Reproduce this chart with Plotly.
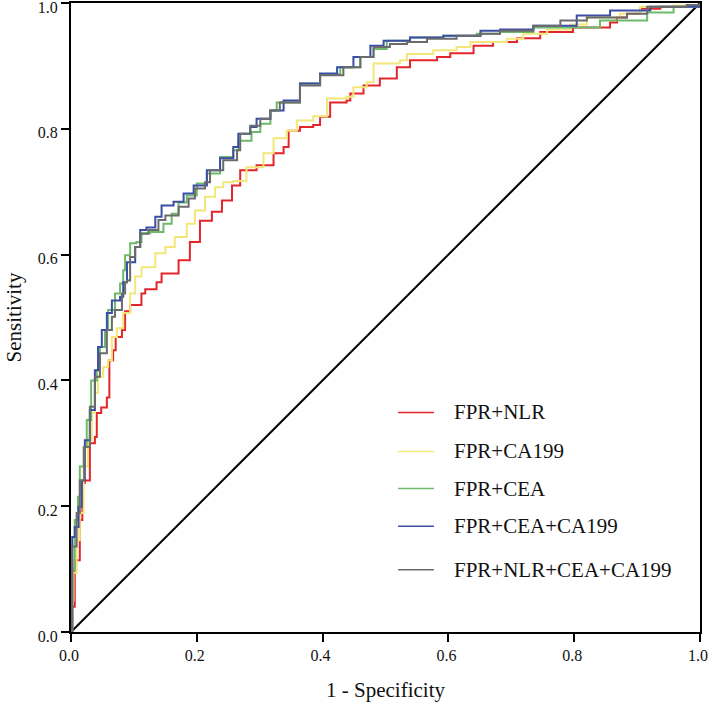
import plotly.graph_objects as go

# ---------------- data ----------------
series_names = ["FPR+NLR", "FPR+CA199", "FPR+CEA", "FPR+CEA+CA199", "FPR+NLR+CEA+CA199"]

nlr_x = [0, 0.002, 0.006, 0.014, 0.018, 0.022, 0.030, 0.038, 0.041, 0.048, 0.057, 0.061, 0.067, 0.071,
         0.081, 0.086, 0.094, 0.112, 0.118, 0.136, 0.144, 0.171, 0.189, 0.205, 0.224, 0.240, 0.256,
         0.269, 0.295, 0.317, 0.322, 0.338, 0.346, 0.364, 0.385, 0.396, 0.412, 0.438, 0.444, 0.465,
         0.491, 0.518, 0.539, 0.582, 0.603, 0.640, 0.671, 0.709, 0.746, 0.798, 0.841, 0.857, 0.868,
         0.884, 0.905, 0.937, 0.979, 1.0]
nlr_y = [0, 0.040, 0.114, 0.178, 0.237, 0.241, 0.300, 0.310, 0.348, 0.357, 0.373, 0.432, 0.448, 0.469,
         0.480, 0.510, 0.520, 0.538, 0.545, 0.556, 0.570, 0.591, 0.620, 0.654, 0.668, 0.686, 0.710,
         0.734, 0.742, 0.742, 0.761, 0.771, 0.797, 0.803, 0.806, 0.819, 0.842, 0.845, 0.856, 0.869,
         0.880, 0.898, 0.909, 0.914, 0.920, 0.932, 0.938, 0.944, 0.954, 0.961, 0.961, 0.969, 0.977,
         0.983, 0.991, 0.994, 0.996, 1.0]

ca199_x = [0, 0.002, 0.004, 0.009, 0.014, 0.020, 0.027, 0.033, 0.038, 0.043, 0.051, 0.059, 0.065, 0.073,
           0.083, 0.094, 0.102, 0.112, 0.134, 0.150, 0.165, 0.184, 0.197, 0.213, 0.229, 0.242, 0.258,
           0.279, 0.306, 0.322, 0.343, 0.359, 0.385, 0.407, 0.438, 0.449, 0.470, 0.481, 0.523, 0.534,
           0.576, 0.613, 0.635, 0.661, 0.693, 0.719, 0.757, 0.794, 0.820, 0.873, 0.905, 0.958, 1.0]
ca199_y = [0, 0.050, 0.094, 0.146, 0.189, 0.263, 0.305, 0.348, 0.380, 0.406, 0.421, 0.432, 0.469, 0.483,
           0.507, 0.538, 0.565, 0.580, 0.602, 0.612, 0.628, 0.649, 0.670, 0.692, 0.707, 0.715, 0.717,
           0.739, 0.761, 0.785, 0.797, 0.813, 0.820, 0.848, 0.851, 0.866, 0.874, 0.904, 0.909, 0.919,
           0.925, 0.930, 0.938, 0.938, 0.943, 0.951, 0.958, 0.966, 0.977, 0.983, 0.994, 0.996, 1.0]

cea_x = [0, 0.001, 0.006, 0.011, 0.014, 0.020, 0.025, 0.032, 0.041, 0.046, 0.054, 0.059, 0.070, 0.078,
         0.083, 0.086, 0.094, 0.104, 0.112, 0.126, 0.147, 0.160, 0.171, 0.184, 0.200, 0.216, 0.237,
         0.258, 0.266, 0.277, 0.287, 0.301, 0.317, 0.327, 0.364, 0.396, 0.428, 0.460, 0.481, 0.502,
         0.539, 0.592, 0.645, 0.682, 0.735, 0.788, 0.841, 0.916, 0.958, 1.0]
cea_y = [0, 0.098, 0.178, 0.215, 0.263, 0.294, 0.337, 0.400, 0.416, 0.453, 0.480, 0.512, 0.538, 0.554,
         0.575, 0.599, 0.618, 0.620, 0.634, 0.636, 0.649, 0.665, 0.683, 0.694, 0.713, 0.729, 0.755,
         0.766, 0.781, 0.781, 0.795, 0.808, 0.829, 0.842, 0.872, 0.887, 0.898, 0.914, 0.927, 0.940,
         0.945, 0.948, 0.951, 0.954, 0.961, 0.961, 0.972, 0.985, 0.994, 1.0]

cea_ca199_x = [0, 0.002, 0.006, 0.012, 0.017, 0.022, 0.030, 0.038, 0.043, 0.049, 0.057, 0.065, 0.078,
               0.083, 0.089, 0.102, 0.110, 0.120, 0.134, 0.144, 0.163, 0.179, 0.195, 0.216, 0.237, 0.258,
               0.266, 0.285, 0.295, 0.317, 0.338, 0.364, 0.396, 0.423, 0.449, 0.476, 0.497, 0.539, 0.592,
               0.651, 0.682, 0.735, 0.804, 0.857, 0.921, 1.0]
cea_ca199_y = [0, 0.151, 0.167, 0.199, 0.241, 0.305, 0.353, 0.416, 0.453, 0.480, 0.507, 0.527, 0.533,
               0.556, 0.588, 0.612, 0.639, 0.643, 0.660, 0.678, 0.684, 0.697, 0.710, 0.734, 0.753, 0.771,
               0.792, 0.803, 0.816, 0.829, 0.845, 0.872, 0.888, 0.898, 0.914, 0.932, 0.940, 0.945, 0.948,
               0.956, 0.958, 0.964, 0.980, 0.988, 0.994, 1.0]

all_x = [0, 0.002, 0.009, 0.014, 0.021, 0.030, 0.038, 0.046, 0.054, 0.057, 0.065, 0.070, 0.081, 0.086,
         0.089, 0.094, 0.102, 0.110, 0.123, 0.139, 0.150, 0.171, 0.187, 0.197, 0.213, 0.221, 0.242,
         0.264, 0.269, 0.285, 0.301, 0.317, 0.332, 0.364, 0.396, 0.433, 0.460, 0.481, 0.507, 0.534,
         0.566, 0.613, 0.651, 0.682, 0.735, 0.778, 0.820, 0.884, 0.916, 0.979, 1.0]
all_y = [0, 0.136, 0.189, 0.241, 0.294, 0.358, 0.406, 0.443, 0.443, 0.480, 0.501, 0.512, 0.538, 0.556,
         0.559, 0.596, 0.612, 0.633, 0.639, 0.655, 0.662, 0.676, 0.689, 0.705, 0.715, 0.734, 0.750,
         0.766, 0.792, 0.805, 0.816, 0.829, 0.842, 0.869, 0.885, 0.898, 0.914, 0.930, 0.935, 0.938,
         0.943, 0.948, 0.951, 0.956, 0.964, 0.972, 0.977, 0.983, 0.994, 0.997, 1.0]

ref_x = [0, 1]
ref_y = [0, 1]

tick_vals = [0.0, 0.2, 0.4, 0.6, 0.8, 1.0]
tick_text = ["0.0", "0.2", "0.4", "0.6", "0.8", "1.0"]

# ---------------- styling ----------------
colors = ["#e3262b", "#f3e779", "#6dbb6a", "#3a4ea6", "#6b6b6b"]
FONT = "Liberation Serif, Times New Roman, serif"

fig = go.Figure()

fig.add_trace(go.Scatter(x=ref_x, y=ref_y, mode="lines",
                         line=dict(color="black", width=2), showlegend=False, hoverinfo="skip"))

series = [(nlr_x, nlr_y), (ca199_x, ca199_y), (cea_x, cea_y),
          (cea_ca199_x, cea_ca199_y), (all_x, all_y)]
for (xs, ys), name, col in zip(series, series_names, colors):
    fig.add_trace(go.Scatter(x=xs, y=ys, mode="lines", name=name,
                             line=dict(color=col, width=2, shape="hv"),
                             showlegend=False))

# manual legend (paper coordinates)
leg_line_x0, leg_line_x1, leg_text_x = 0.520, 0.577, 0.605
leg_rows_y = [0.349, 0.287, 0.228, 0.168, 0.099]
for name, col, yy in zip(series_names, colors, leg_rows_y):
    fig.add_shape(type="line", xref="paper", yref="paper",
                  x0=leg_line_x0, x1=leg_line_x1, y0=yy, y1=yy,
                  line=dict(color=col, width=1.5))
    fig.add_annotation(xref="paper", yref="paper", x=leg_text_x, y=yy, text=name,
                       showarrow=False, xanchor="left", yanchor="middle",
                       font=dict(family=FONT, size=21, color="#111"))

axis_common = dict(range=[0, 1], tickvals=tick_vals, ticktext=tick_text,
                   showline=True, mirror=True, linecolor="black", linewidth=2,
                   ticks="outside", ticklen=8, tickwidth=2, tickcolor="black",
                   showgrid=False, zeroline=False, ticklabeloverflow="allow",
                   automargin=False,
                   tickfont=dict(family=FONT, size=16, color="#111"))

fig.update_layout(
    width=709, height=705,
    margin=dict(l=71, r=9, t=3, b=73, autoexpand=False),
    paper_bgcolor="white", plot_bgcolor="white",
    xaxis=dict(**axis_common, ticklabelshift=-2,
               title=dict(text="1 - Specificity", standoff=19,
                          font=dict(family=FONT, size=21, color="#111"))),
    yaxis=dict(**axis_common, ticklabelshift=4,
               title=dict(text="Sensitivity", standoff=10,
                          font=dict(family=FONT, size=21, color="#111"))),
)

fig.write_html("out.html", config={"displayModeBar": False},
               post_script="document.body.style.margin='0px';document.body.style.overflow='hidden';")
